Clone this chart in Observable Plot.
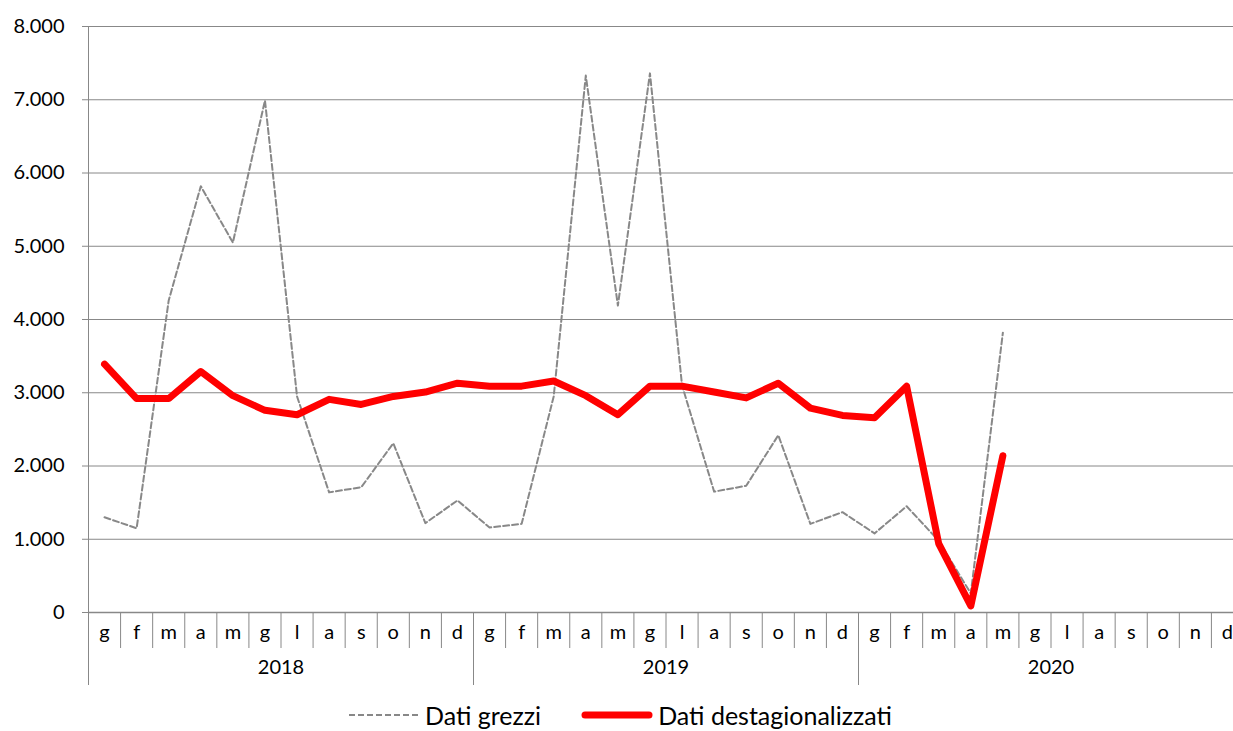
<!DOCTYPE html>
<html><head><meta charset="utf-8">
<script src="https://cdn.jsdelivr.net/npm/d3@7"></script>
<script src="https://cdn.jsdelivr.net/npm/@observablehq/plot@0.6"></script>
<style>
body{margin:0;background:#fff;overflow:hidden;font-family:Lato,"Open Sans",sans-serif;}
#wrap{width:1233px;height:731px;overflow:hidden;position:relative;}
#legend{position:absolute;left:0;top:699px;width:1240px;display:flex;justify-content:center;align-items:center;height:32px;font-size:25px;line-height:30px;color:#000;}
#legend .item{display:flex;align-items:center;margin:0 20px;}
#legend svg{margin-right:5px;}
</style></head><body>
<div id="wrap"><div id="chart"></div><div id="legend"></div></div>
<script>
const monthLabels = ["g","f","m","a","m","g","l","a","s","o","n","d"];
const years = ["2018","2019","2020"];
const yTicks = [0,1000,2000,3000,4000,5000,6000,7000,8000];
const seriesNames = ["Dati grezzi","Dati destagionalizzati"];
const grezzi = [1300,1150,4260,5820,5050,6990,2950,1640,1710,2310,1220,1530,
                1160,1210,2950,7330,4190,7360,3100,1650,1730,2420,1210,1370,
                1080,1450,980,260,3820];
const destag = [3390,2920,2920,3290,2960,2760,2700,2910,2840,2950,3010,3130,
                3090,3090,3160,2960,2700,3090,3090,3010,2930,3130,2790,2690,
                2660,3090,940,90,2140];

const gData = grezzi.map((v,i)=>({x:i+0.5,y:v}));
const dData = destag.map((v,i)=>({x:i+0.5,y:v}));
const nMonths = 36;
const fmt = d => d3.format(",")(d).replace(/,/g,".");

const chart = Plot.plot({
  width: 1244, height: 700,
  marginLeft: 88, marginRight: 1, marginTop: 26, marginBottom: 88,
  style: {fontFamily: "Lato, 'Open Sans', sans-serif", maxWidth: "none", overflow: "visible"},
  x: {type: "linear", domain: [0, nMonths], axis: null},
  y: {domain: [0, 8000], axis: null},
  marks: [
    Plot.gridY(yTicks, {stroke: "#888", strokeOpacity: 1, strokeWidth: 1}),
    Plot.axisY(yTicks, {label: null, tickSize: 6, tickPadding: 18, tickFormat: fmt, fontSize: 20, stroke: "#888", fill: "#000"}),
    Plot.ruleX([0], {stroke: "#888"}),
    Plot.ruleY([0], {stroke: "#888", strokeWidth: 1.5}),
    Plot.axisX(d3.range(nMonths + 1), {label: null, tickSize: 36, tickFormat: () => "", stroke: "#888"}),
    Plot.axisX(d3.range(0, nMonths + 1, 12), {label: null, tickSize: 73, tickFormat: () => "", stroke: "#888"}),
    Plot.axisX(d3.range(nMonths).map(i => i + 0.5), {label: null, tickSize: 0, tickPadding: 12, fontSize: 20, fill: "#000",
      tickFormat: d => monthLabels[Math.floor(d) % 12]}),
    Plot.axisX(years.map((y, i) => i * 12 + 6), {label: null, tickSize: 0, tickPadding: 47, fontSize: 20, fill: "#000",
      tickFormat: d => years[(d - 6) / 12]}),
    Plot.line(gData, {x: "x", y: "y", stroke: "#888", strokeWidth: 2, strokeDasharray: "6,3"}),
    Plot.line(dData, {x: "x", y: "y", stroke: "#ff0000", strokeWidth: 7, strokeLinejoin: "round", strokeLinecap: "round"})
  ]
});
document.getElementById("chart").appendChild(chart);

const legend = document.getElementById("legend");
legend.innerHTML = `
<div class="item"><svg width="72" height="10"><line x1="1" y1="5" x2="71" y2="5" stroke="#888" stroke-width="2" stroke-dasharray="6,3"/></svg><span>${seriesNames[0]}</span></div>
<div class="item"><svg width="72" height="10"><line x1="4" y1="5" x2="68" y2="5" stroke="#ff0000" stroke-width="7" stroke-linecap="round"/></svg><span>${seriesNames[1]}</span></div>`;
</script>
</body></html>
